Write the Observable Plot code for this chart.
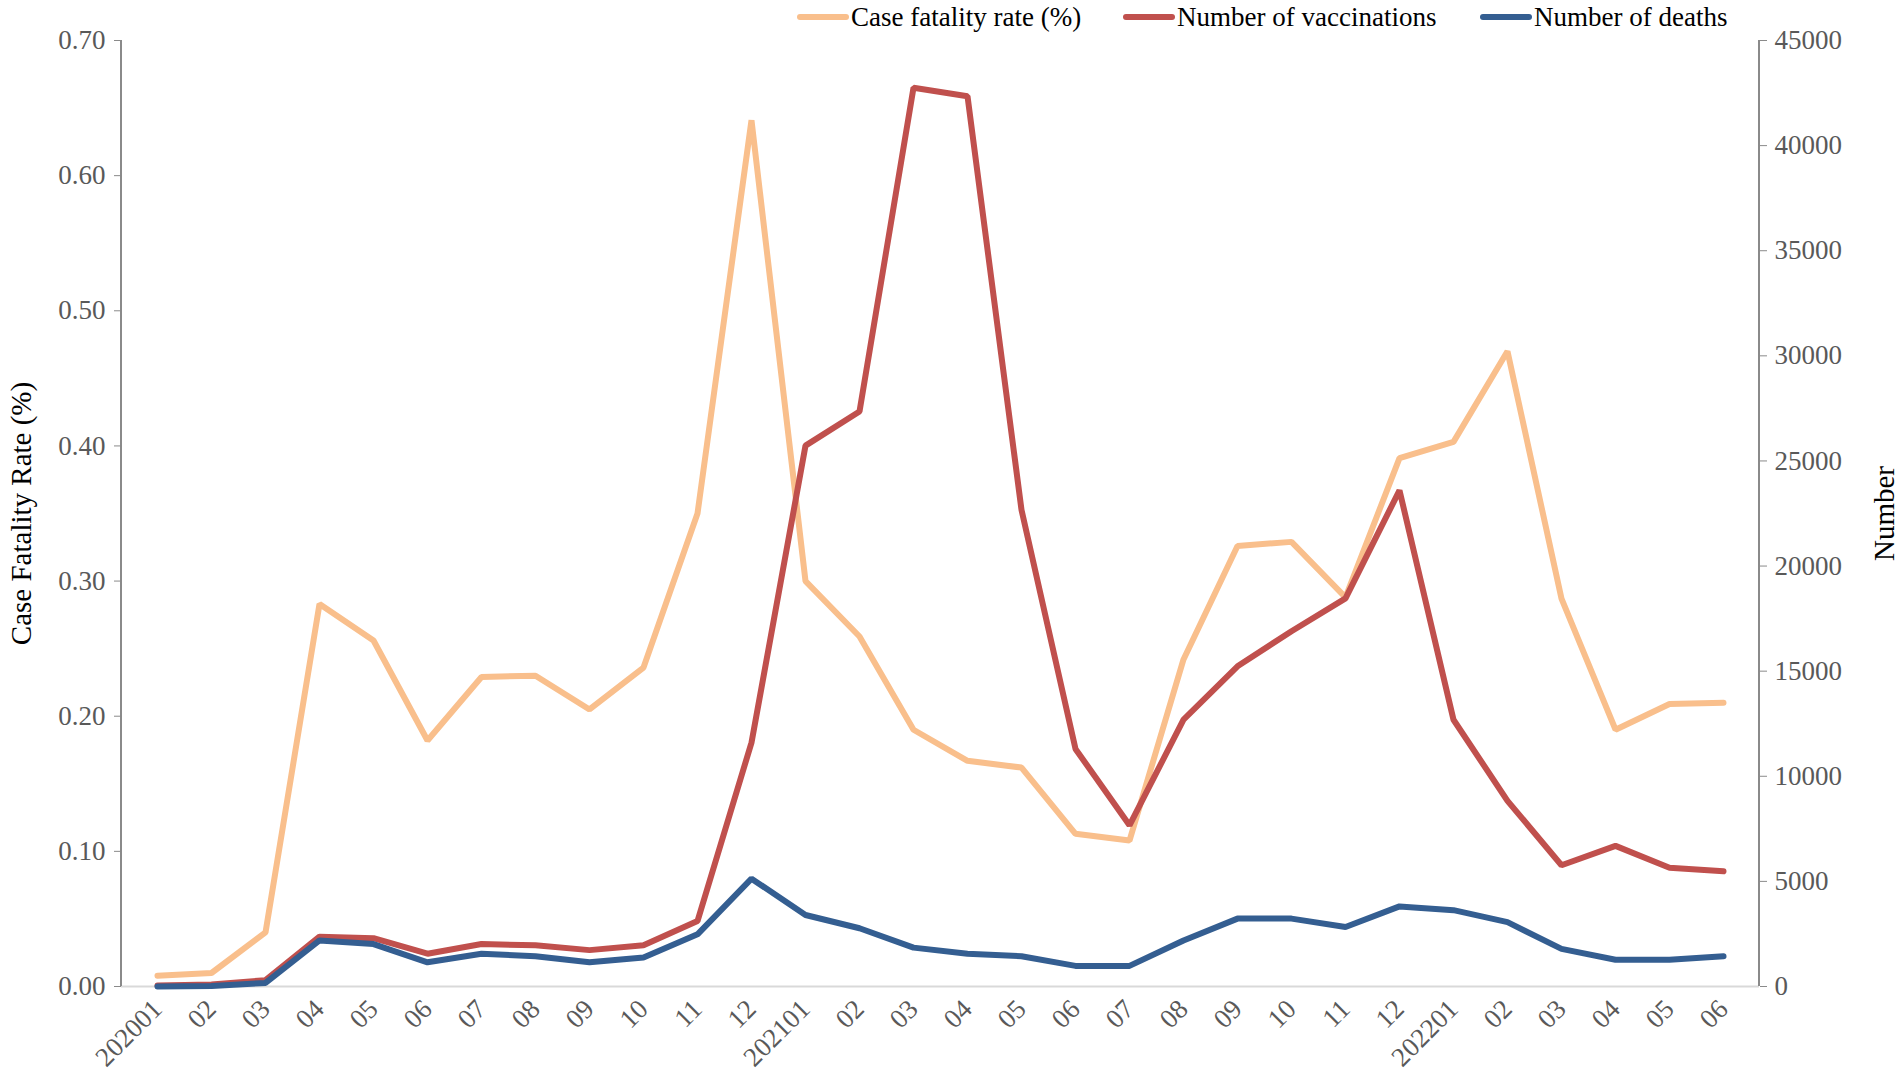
<!DOCTYPE html>
<html>
<head>
<meta charset="utf-8">
<script src="https://cdn.jsdelivr.net/npm/d3@7"></script>
<script src="https://cdn.jsdelivr.net/npm/@observablehq/plot@0.6"></script>
<style>
  body { margin: 0; background: #fff; font-family: "Liberation Serif", "Times New Roman", serif; }
  #wrap { position: relative; width: 1902px; }
  #legend { position: absolute; left: 0; top: 0; height: 34px; width: 1902px; z-index: 2; }
  .item { position: absolute; top: 0; height: 34px; display: flex; align-items: center; font-size: 27px; color: #000; white-space: nowrap; }
  .swatch { width: 52px; height: 6px; border-radius: 3px; margin-right: 2px; }
  .ytitle { position: absolute; font-size: 29px; color: #000; white-space: nowrap; transform-origin: center; }
</style>
</head>
<body>
<div id="wrap">
<div id="legend"></div>
<div id="chart"></div>
</div>
<script>
const months = ["2020-01","2020-02","2020-03","2020-04","2020-05","2020-06","2020-07","2020-08","2020-09","2020-10","2020-11","2020-12",
  "2021-01","2021-02","2021-03","2021-04","2021-05","2021-06","2021-07","2021-08","2021-09","2021-10","2021-11","2021-12",
  "2022-01","2022-02","2022-03","2022-04","2022-05","2022-06"];
const tickLabels = ["202001","02","03","04","05","06","07","08","09","10","11","12",
  "202101","02","03","04","05","06","07","08","09","10","11","12",
  "202201","02","03","04","05","06"];
const caseFatalityRate = [0.008,0.010,0.040,0.283,0.256,0.182,0.229,0.230,0.205,0.236,0.350,0.641,
  0.300,0.259,0.190,0.167,0.162,0.113,0.108,0.242,0.326,0.329,0.288,0.391,
  0.403,0.470,0.287,0.190,0.209,0.210];
const vaccinations = [50,100,300,2370,2300,1560,2020,1960,1730,1960,3115,11600,
  25730,27350,42750,42350,22670,11300,7670,12690,15230,16900,18460,23600,
  12690,8830,5770,6690,5650,5480];
const deaths = [0,20,170,2190,2020,1150,1560,1440,1150,1380,2480,5130,
  3400,2770,1850,1560,1440,980,980,2190,3230,3230,2830,3810,
  3630,3060,1790,1270,1270,1440];
const leftTicks = [0,0.1,0.2,0.3,0.4,0.5,0.6,0.7];
const rightTicks = [0,5000,10000,15000,20000,25000,30000,35000,40000,45000];
const seriesNames = ["Case fatality rate (%)","Number of vaccinations","Number of deaths"];
const seriesColors = ["#F9BF8C","#C0504D","#345E91"];

const leftMax = 0.7, rightMax = 45000;
const toLeft = v => v * leftMax / rightMax;

const cfrData = months.map((m, i) => ({m, v: caseFatalityRate[i]}));
const vacData = months.map((m, i) => ({m, v: toLeft(vaccinations[i])}));
const deathData = months.map((m, i) => ({m, v: toLeft(deaths[i])}));

// legend
const legend = document.getElementById("legend");
const legendLefts = [797, 1123, 1480];
seriesNames.forEach((name, i) => {
  const it = document.createElement("div");
  it.className = "item";
  it.style.left = legendLefts[i] + "px";
  it.innerHTML = `<span class="swatch" style="background:${seriesColors[i]}"></span><span>${name}</span>`;
  legend.appendChild(it);
});

const W = 1902, H = 1074, mL = 121, mR = 143, mT = 40, mB = 88;
const gray = "#595959", axisGray = "#8a8a8a";

function sideLines(index, scales, values, dims) {
  const g = d3.create("svg:g");
  g.append("line").attr("x1", dims.marginLeft).attr("x2", dims.marginLeft)
    .attr("y1", dims.marginTop).attr("y2", dims.height - dims.marginBottom)
    .attr("stroke", axisGray).attr("stroke-width", 2);
  g.append("line").attr("x1", dims.width - dims.marginRight).attr("x2", dims.width - dims.marginRight)
    .attr("y1", dims.marginTop).attr("y2", dims.height - dims.marginBottom)
    .attr("stroke", axisGray).attr("stroke-width", 2);
  return g.node();
}

const plot = Plot.plot({
  width: W, height: H,
  marginLeft: mL, marginRight: mR, marginTop: mT, marginBottom: mB,
  style: {fontFamily: "Liberation Serif, Times New Roman, serif", background: "#fff"},
  x: {type: "point", domain: months, padding: 0.5},
  y: {domain: [0, leftMax]},
  marks: [
    Plot.ruleY([0], {stroke: "#d9d9d9", strokeWidth: 2}),
    sideLines,
    Plot.axisY({anchor: "left", ticks: leftTicks, tickFormat: d => d.toFixed(2), tickSize: 7, tickPadding: 9,
      color: gray, stroke: axisGray, fontSize: 27, label: null}),
    Plot.axisY({anchor: "right", ticks: rightTicks.map(toLeft), tickFormat: d => String(Math.round(d * rightMax / leftMax)),
      tickSize: 7, tickPadding: 8, color: gray, stroke: axisGray, fontSize: 27, label: null}),
    Plot.axisX({anchor: "bottom", tickSize: 0, tickRotate: -45, tickPadding: 18, fontSize: 27, color: gray,
      tickFormat: d => tickLabels[months.indexOf(d)], label: null}),
    Plot.line(cfrData, {x: "m", y: "v", stroke: seriesColors[0], strokeWidth: 6, strokeLinejoin: "miter"}),
    Plot.line(vacData, {x: "m", y: "v", stroke: seriesColors[1], strokeWidth: 6, strokeLinejoin: "miter"}),
    Plot.line(deathData, {x: "m", y: "v", stroke: seriesColors[2], strokeWidth: 6, strokeLinejoin: "miter"})
  ]
});
const chart = document.getElementById("chart");
chart.appendChild(plot);

const wrap = document.getElementById("wrap");
const plotMid = mT + (H - mT - mB) / 2;
const t1 = document.createElement("div");
t1.className = "ytitle";
t1.textContent = "Case Fatality Rate (%)";
wrap.appendChild(t1);
const t2 = document.createElement("div");
t2.className = "ytitle";
t2.textContent = "Number";
wrap.appendChild(t2);
function place(el, cx, cy) {
  const w = el.offsetWidth, h = el.offsetHeight;
  el.style.left = (cx - w / 2) + "px";
  el.style.top = (cy - h / 2) + "px";
  el.style.transform = "rotate(-90deg)";
}
place(t1, 21, plotMid);
place(t2, 1884, plotMid);
</script>
</body>
</html>
